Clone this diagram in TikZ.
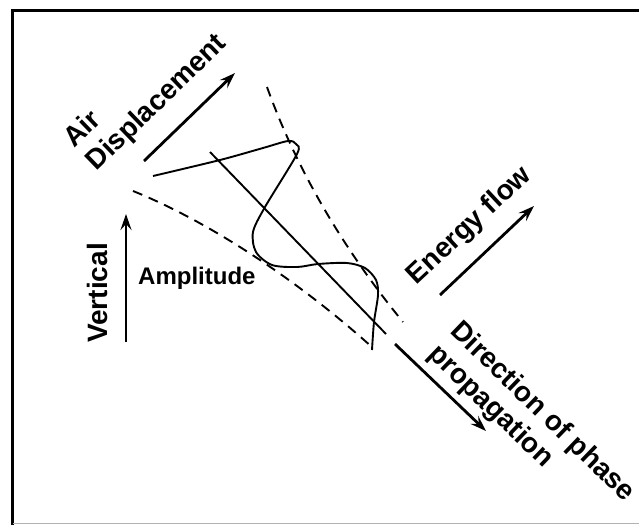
\documentclass[tikz,border=0pt]{standalone}
\usepackage{fontspec}
\setmainfont{Liberation Sans}
\usetikzlibrary{arrows.meta}

\begin{document}
\begin{tikzpicture}[x=1pt, y=-1pt,
  lbl/.style={font=\fontsize{28}{32}\selectfont\bfseries, inner sep=0pt, align=left},
  big arrow/.style={-{Stealth[length=16pt, width=11pt, inset=6pt]}, line width=2.8pt},
  wave/.style={line width=1.9pt, line join=round},
  guide/.style={line width=1.9pt, dash pattern=on 10pt off 7pt}
]
  \useasboundingbox (0,0) rectangle (639,525);

  % frame
  \draw[line width=3.5pt] (12.5,525) -- (12.5,10.5) -- (639,10.5);
  \draw[black!30, line width=1pt] (12.5,523.5) -- (639,523.5);

  % labels
  \node[lbl, rotate=44] (airlbl) at (146,92) {Air\\Displacement};
  \node[lbl, rotate=90] (vertlbl) at (97,293) {Vertical};
  \node[lbl, font=\fontsize{24}{28}\selectfont\bfseries, anchor=base west] (amplbl) at (138,284) {Amplitude};
  \node[lbl, rotate=43] (energylbl) at (470,226) {Energy flow};
  \node[lbl, rotate=-44] (phaselbl) at (531,424) {Direction of phase\\propagation};

  % arrow ends
  \coordinate (air tail) at (144,161);
  \coordinate (air head) at (235,73);
  \coordinate (vert tail) at (126,342);
  \coordinate (vert head) at (126,214);
  \coordinate (energy tail) at (440,295);
  \coordinate (energy head) at (534,206);
  \coordinate (phase tail) at (395,344);
  \coordinate (phase head) at (486,431);
  \coordinate (axis start) at (210,152);
  \coordinate (axis end) at (386,334);

  \draw[big arrow] (air tail) -- (air head);
  \draw[big arrow] (vert tail) -- (vert head);
  \draw[big arrow] (energy tail) -- (energy head);
  \draw[big arrow] (phase tail) -- (phase head);

  % beam edges
  \draw[guide] (133,191) .. controls (210,222) and (300,282) .. (373,348);
  \draw[guide] (267,87) .. controls (295,165) and (340,245) .. (403,322);

  % wave and its axis
  \draw[wave] (axis start) -- (axis end);
  \draw[wave] plot[smooth, tension=0.5] coordinates {(153,176) (220,160) (263,148) (288,141) (296,144) (297,154) (265,207) (253,232) (256,252) (272,265) (297,267) (318,264) (347,263) (365,268) (376,280) (378,295) (374,322) (372,350)};
\end{tikzpicture}
\end{document}
